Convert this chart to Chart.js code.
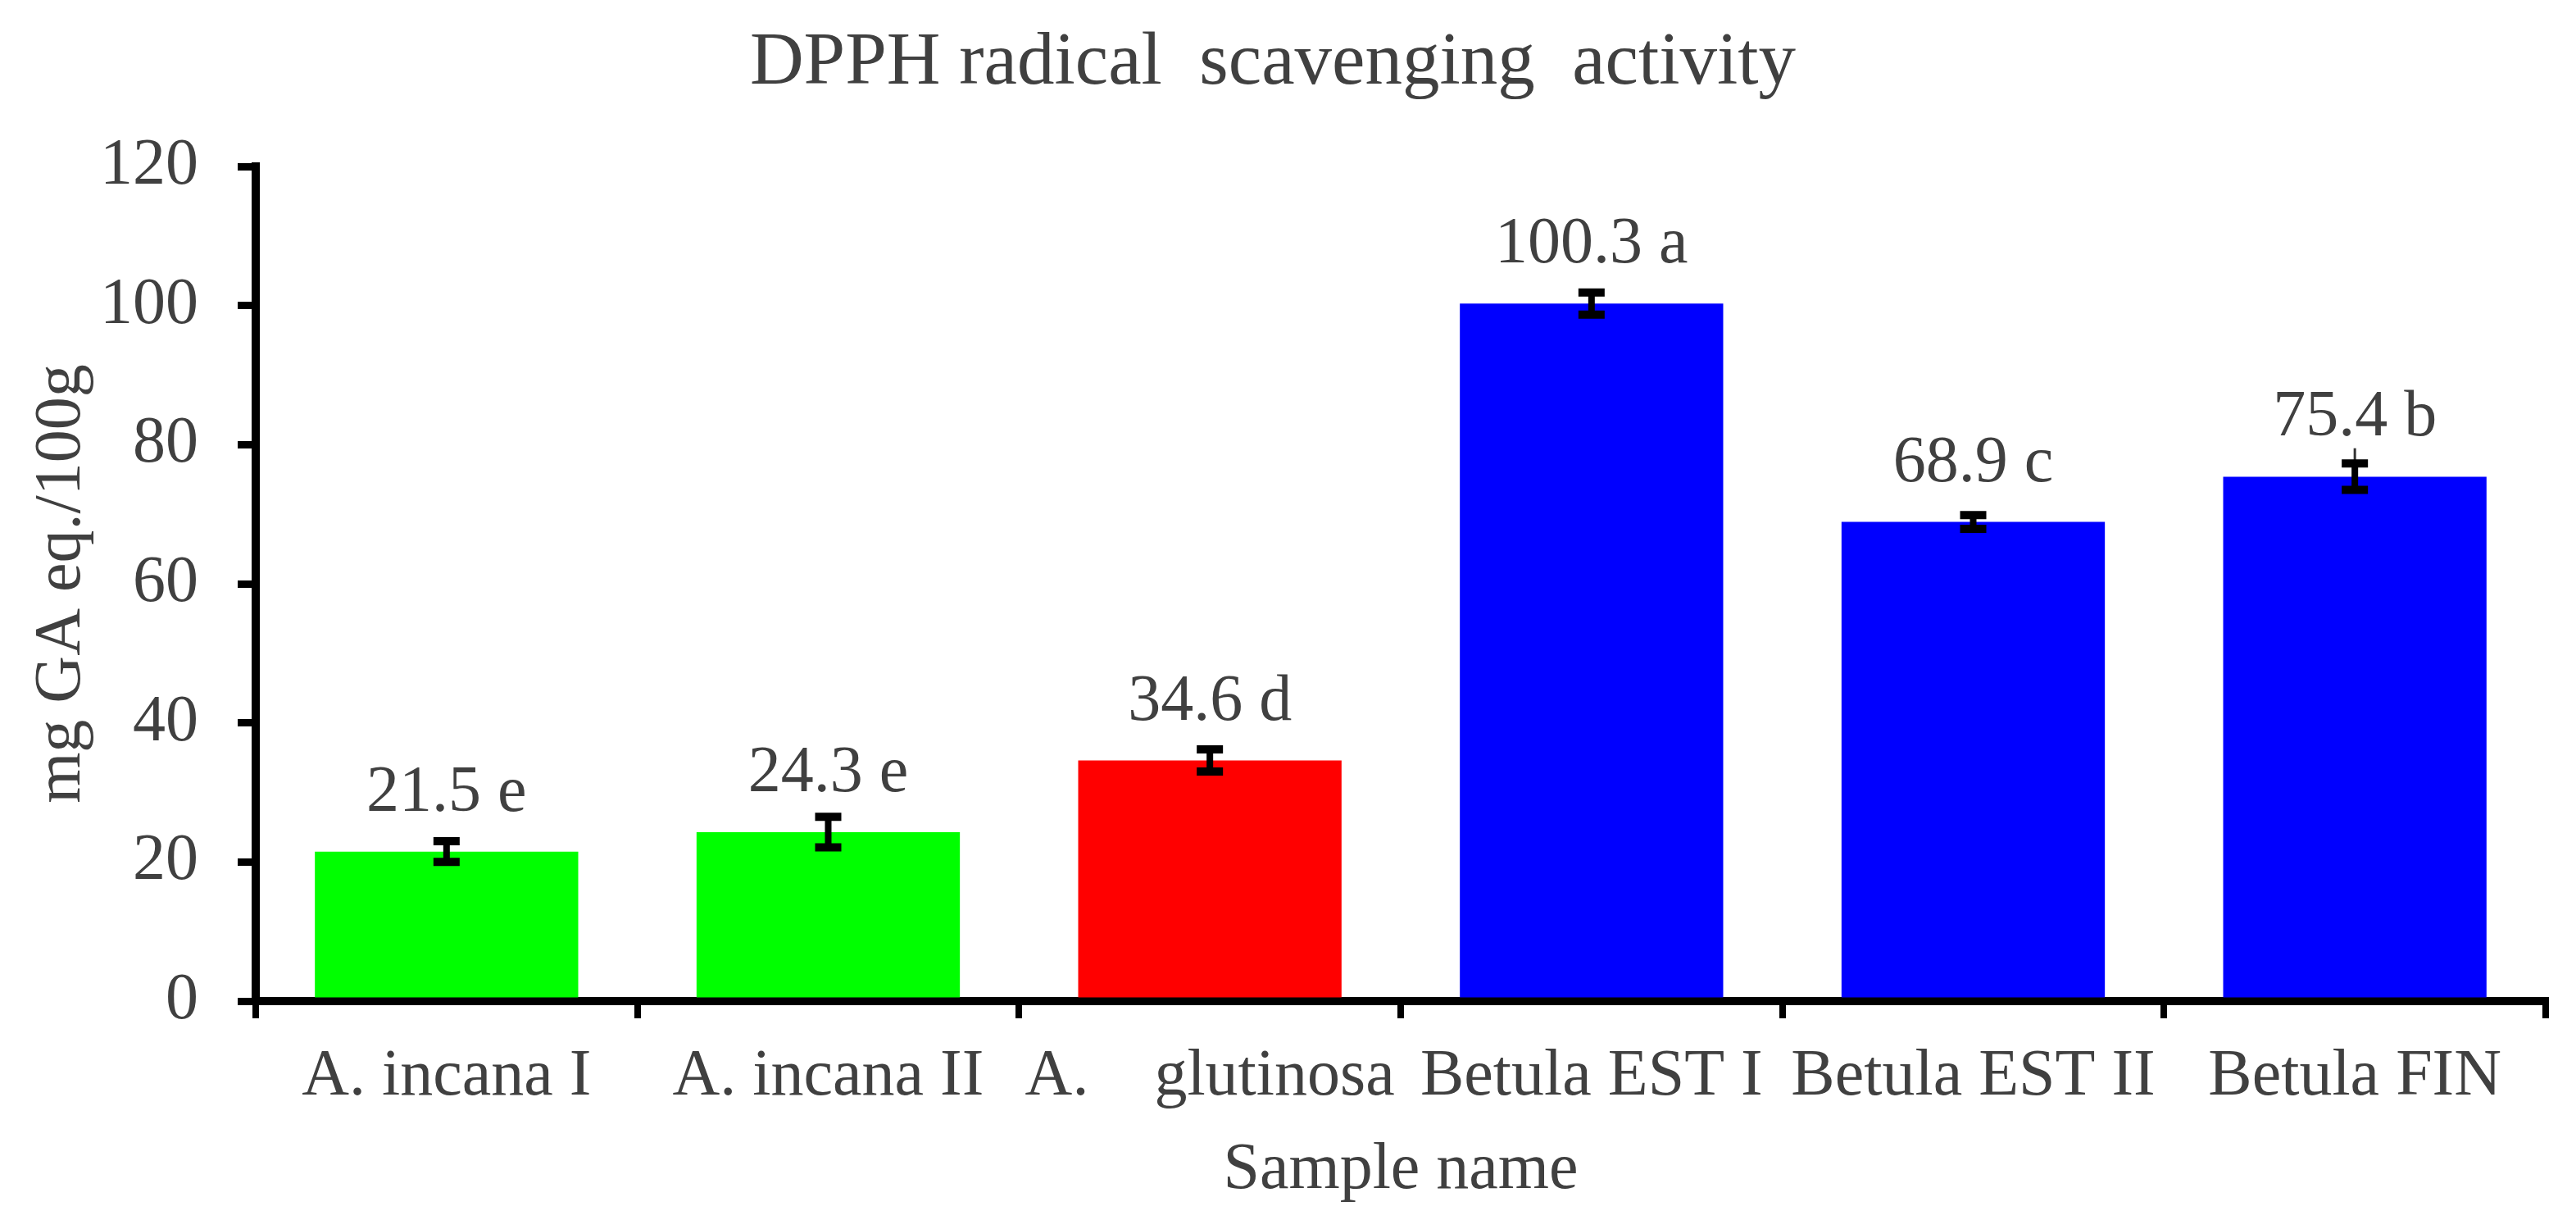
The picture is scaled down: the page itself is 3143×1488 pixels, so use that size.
<!DOCTYPE html>
<html>
<head>
<meta charset="utf-8">
<script src="https://cdn.jsdelivr.net/npm/chart.js@4/dist/chart.umd.min.js"></script>
<style>
  html, body { margin: 0; padding: 0; background: #ffffff; }
  #wrap { width: 3143px; height: 1488px; }
</style>
</head>
<body>
<div id="wrap"><canvas id="c" width="3143" height="1488"></canvas></div>
<script>
const categories = ['A. incana I', 'A. incana II', 'A.    glutinosa', 'Betula EST I', 'Betula EST II', 'Betula FIN'];
const values = [21.5, 24.3, 34.6, 100.3, 68.9, 75.4];
const errors = [1.5, 2.2, 1.6, 1.6, 1.0, 1.9];
const letters = ['e', 'e', 'd', 'a', 'c', 'b'];
const extraWhiskerTop = [null, null, null, null, null, 79.5];
const barColors = ['#00ff00', '#00ff00', '#ff0000', '#0000ff', '#0000ff', '#0000ff'];
const yTicks = [0, 20, 40, 60, 80, 100, 120];

const FONT = "'Liberation Serif', 'Times New Roman', serif";
const TEXT = '#404040';

const errorBarPlugin = {
  id: 'errorBars',
  afterDatasetsDraw(chart) {
    const ctx = chart.ctx;
    const meta = chart.getDatasetMeta(0);
    const y = chart.scales.y;
    ctx.save();
    ctx.strokeStyle = '#000';
    meta.data.forEach((bar, i) => {
      const x = bar.x;
      const yTop = y.getPixelForValue(values[i] + errors[i]);
      const yBot = y.getPixelForValue(values[i] - errors[i]);
      if (extraWhiskerTop[i] != null) {
        ctx.lineWidth = 3;
        ctx.strokeStyle = '#333';
        ctx.beginPath();
        ctx.moveTo(x, yTop);
        ctx.lineTo(x, y.getPixelForValue(extraWhiskerTop[i]));
        ctx.stroke();
        ctx.strokeStyle = '#000';
      }
      ctx.lineWidth = 8;
      ctx.beginPath();
      ctx.moveTo(x, yTop);
      ctx.lineTo(x, yBot);
      ctx.stroke();
      ctx.lineWidth = 10;
      ctx.beginPath();
      ctx.moveTo(x - 16, yTop); ctx.lineTo(x + 16, yTop);
      ctx.moveTo(x - 16, yBot); ctx.lineTo(x + 16, yBot);
      ctx.stroke();
    });
    ctx.restore();
  }
};

const labelPlugin = {
  id: 'valueLabels',
  afterDatasetsDraw(chart) {
    const ctx = chart.ctx;
    const meta = chart.getDatasetMeta(0);
    const y = chart.scales.y;
    ctx.save();
    ctx.font = '80px ' + FONT;
    ctx.fillStyle = TEXT;
    ctx.textAlign = 'center';
    ctx.textBaseline = 'alphabetic';
    meta.data.forEach((bar, i) => {
      const txt = values[i].toFixed(1) + ' ' + letters[i];
      ctx.fillText(txt, bar.x, y.getPixelForValue(values[i]) - 50);
    });
    ctx.restore();
  }
};

new Chart(document.getElementById('c'), {
  type: 'bar',
  data: {
    labels: categories,
    datasets: [{
      data: values,
      backgroundColor: barColors,
      borderWidth: 0,
      categoryPercentage: 1.0,
      barPercentage: 0.69
    }]
  },
  options: {
    responsive: false,
    devicePixelRatio: 1,
    animation: false,
    layout: { padding: { left: 0, right: 37, top: 0, bottom: 0 } },
    plugins: {
      legend: { display: false },
      tooltip: { enabled: false },
      title: {
        display: true,
        text: 'DPPH radical  scavenging  activity',
        color: TEXT,
        font: { family: FONT, size: 91, weight: 'normal' },
        padding: { top: 23, bottom: 71 }
      }
    },
    scales: {
      x: {
        offset: true,
        grid: { offset: true, drawOnChartArea: false, drawTicks: true, color: '#000', lineWidth: 8, tickLength: 21 },
        border: { display: true, color: '#000', width: 10 },
        ticks: { color: TEXT, font: { family: FONT, size: 80 }, padding: 24, autoSkip: false, maxRotation: 0, minRotation: 0 },
        title: { display: true, text: 'Sample name', color: TEXT, font: { family: FONT, size: 80 }, padding: { top: 0, bottom: 12 } },
        afterFit(scale) { scale.height = 267; }
      },
      y: {
        min: 0, max: 120,
        afterBuildTicks(scale) { scale.ticks = yTicks.map(v => ({ value: v })); },
        grid: { drawOnChartArea: false, drawTicks: true, color: '#000', lineWidth: 9, tickLength: 22 },
        border: { display: true, color: '#000', width: 10 },
        ticks: { color: TEXT, font: { family: FONT, size: 80 }, padding: 48 },
        title: { display: true, text: 'mg GA eq./100g', color: TEXT, font: { family: FONT, size: 80 }, padding: { top: 28, bottom: 0 } },
        afterFit(scale) { scale.width = 312; }
      }
    }
  },
  plugins: [errorBarPlugin, labelPlugin]
});
</script>
</body>
</html>
